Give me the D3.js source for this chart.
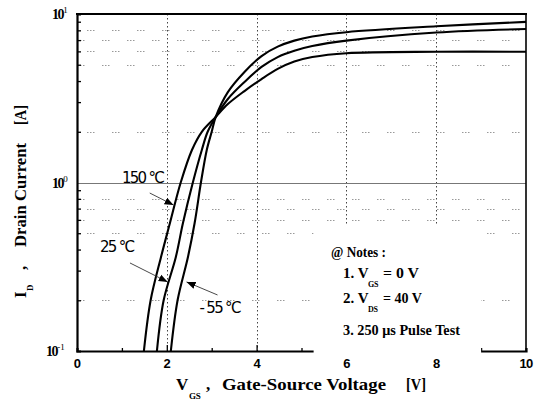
<!DOCTYPE html>
<html>
<head>
<meta charset="utf-8">
<script src="https://cdn.jsdelivr.net/npm/d3@7"></script>
<style>
  body { margin: 0; background: #fff; }
  svg { display: block; }
  text { white-space: pre; }
</style>
</head>
<body>
<svg id="chart" width="538" height="403"></svg>
<script>
// === DATA ===
const vgs150 = [1.49, 1.64, 1.87, 2.07, 2.31, 2.56, 2.78, 3.09, 3.36, 3.73, 4.11, 4.47, 4.84, 5.24, 6, 8, 10];
const id150  = [0.1, 0.2, 0.36, 0.575, 1.0, 1.56, 2.0, 2.45, 2.92, 3.49, 4.11, 4.72, 5.22, 5.55, 5.85, 5.97, 5.97];

const vgs25 = [1.78, 1.93, 2.2, 2.36, 2.58, 2.78, 2.91, 3.09, 3.36, 3.73, 4.11, 4.47, 4.84, 5.24, 6, 8, 10];
const id25  = [0.1, 0.2, 0.36, 0.575, 1.0, 1.56, 2.0, 2.45, 3.13, 3.95, 4.85, 5.55, 6.05, 6.45, 6.95, 7.76, 8.14];

const vgsM55 = [2.09, 2.24, 2.47, 2.62, 2.76, 2.89, 3.0, 3.09, 3.36, 3.73, 4.11, 4.47, 4.84, 5.24, 6, 8, 10];
const idM55  = [0.1, 0.2, 0.36, 0.575, 1.0, 1.56, 2.0, 2.45, 3.44, 4.53, 5.63, 6.4, 6.95, 7.35, 7.8, 8.45, 8.98];

const xMinorTicks = [1, 3, 5, 7, 9];
const xMajorTicks = [2, 4, 6, 8];
const xTickLabels = [0, 2, 4, 6, 8, 10];
const yMinorTicks = [0.2, 0.3, 0.4, 0.5, 0.6, 0.7, 0.8, 0.9, 2, 3, 4, 5, 6, 7, 8, 9];
const yGridRows = [0.2, 0.5, 0.6, 0.7, 0.8, 2, 5, 6, 7, 8];
const yDecades = [{ v: 10, exp: "1" }, { v: 1, exp: "0" }, { v: 0.1, exp: "-1" }];

// annotations: label position + arrow (from -> to), in data units
const tempLabels = [
  { text: "150 °C", v: 1.0, i: 1.0, from: [1.62, 0.866], to: [2.15, 0.735] },
  { text: "25 °C", v: 0.51, i: 0.387, from: [1.18, 0.333], to: [2.02, 0.257] },
  { text: "- 55 °C", v: 2.73, i: 0.168, from: [3.13, 0.215], to: [2.44, 0.257] }
];

const width = 538, height = 403;
const plotL = 77, plotR = 526, plotT = 14, plotB = 351;

const svg = d3.select("#chart");
svg.append("rect").attr("width", width).attr("height", height).attr("fill", "#fff");

const x = d3.scaleLinear().domain([0, 10]).range([plotL, plotR]);
const y = d3.scaleLog().domain([0.1, 10]).range([plotB, plotT]);

// === GRID ===
const grid = svg.append("g");
grid.selectAll("line.row")
  .data(yGridRows)
  .join("line")
  .attr("class", "row")
  .attr("x1", plotL).attr("x2", plotR)
  .attr("y1", d => Math.round(y(d)) + 0.5).attr("y2", d => Math.round(y(d)) + 0.5)
  .attr("stroke", "#999")
  .attr("stroke-width", 1)
  .attr("stroke-dasharray", "1.5,1.5,1.5,1.5,1.5,17.5")
  .attr("stroke-dashoffset", (d, i) => (i % 2 ? -10 : 0));

grid.selectAll("line.col")
  .data(xMajorTicks)
  .join("line")
  .attr("class", "col")
  .attr("x1", d => Math.round(x(d)) + 0.5).attr("x2", d => Math.round(x(d)) + 0.5)
  .attr("y1", plotT).attr("y2", plotB)
  .attr("stroke", "#444")
  .attr("stroke-width", 1)
  .attr("stroke-dasharray", "1.5,2.5");

// 10^0 solid line
grid.append("line")
  .attr("x1", plotL).attr("x2", plotR)
  .attr("y1", Math.round(y(1)) + 0.5).attr("y2", Math.round(y(1)) + 0.5)
  .attr("stroke", "#777")
  .attr("stroke-width", 1);

// === AXES ===
const yAxis = svg.append("g")
  .attr("transform", `translate(${plotL},0)`)
  .call(d3.axisLeft(y).tickValues(yMinorTicks).tickSize(-4).tickFormat(""));
yAxis.select(".domain").attr("stroke-width", 2.2);

const xAxisMinor = svg.append("g")
  .attr("transform", `translate(0,${plotB})`)
  .call(d3.axisBottom(x).tickValues(xMinorTicks).tickSize(-3).tickFormat(""));
xAxisMinor.select(".domain").attr("stroke-width", 2.2);
svg.append("g")
  .attr("transform", `translate(0,${plotB})`)
  .call(d3.axisBottom(x).tickValues(xMajorTicks).tickSize(-6).tickFormat(""))
  .select(".domain").remove();

svg.selectAll(".tick line").attr("stroke-width", 1.3);

// top + right frame
svg.append("line").attr("x1", plotL - 1).attr("x2", plotR + 1).attr("y1", plotT).attr("y2", plotT)
  .attr("stroke", "#000").attr("stroke-width", 2.2);
svg.append("line").attr("x1", plotR).attr("x2", plotR).attr("y1", plotT).attr("y2", plotB)
  .attr("stroke", "#000").attr("stroke-width", 1.6);

// === CURVES ===
const line = d3.line()
  .x(d => x(d[0]))
  .y(d => y(d[1]))
  .curve(d3.curveCatmullRom.alpha(0.5));

const series = [
  d3.zip(vgs150, id150),
  d3.zip(vgs25, id25),
  d3.zip(vgsM55, idM55)
];
svg.append("g").selectAll("path")
  .data(series)
  .join("path")
  .attr("d", line)
  .attr("fill", "none")
  .attr("stroke", "#000")
  .attr("stroke-width", 2.1)
  .attr("stroke-linejoin", "round");

// === TEMPERATURE LABELS & ARROWS ===
svg.append("defs").append("marker")
  .attr("id", "arrow")
  .attr("viewBox", "0 0 10 10")
  .attr("refX", 10).attr("refY", 5)
  .attr("markerWidth", 9).attr("markerHeight", 9)
  .attr("markerUnits", "userSpaceOnUse")
  .attr("orient", "auto")
  .append("path")
  .attr("d", "M0,1 L10,5 L0,9 Z")
  .attr("fill", "#000");

const ann = svg.append("g");
ann.selectAll("line")
  .data(tempLabels)
  .join("line")
  .attr("x1", d => x(d.from[0])).attr("y1", d => y(d.from[1]))
  .attr("x2", d => x(d.to[0])).attr("y2", d => y(d.to[1]))
  .attr("stroke", "#333")
  .attr("stroke-width", 0.9)
  .attr("marker-end", "url(#arrow)");
ann.selectAll("text")
  .data(tempLabels)
  .join("text")
  .attr("x", d => x(d.v)).attr("y", d => y(d.i))
  .attr("font-family", "DejaVu Sans")
  .attr("font-size", 15)
  .attr("letter-spacing", -1.7)
  .text(d => d.text);

// === NOTES BOX ===
svg.append("rect")
  .attr("x", x(5.27)).attr("y", y(0.567))
  .attr("width", x(9.0) - x(5.27))
  .attr("height", plotB + 4 - y(0.567))
  .attr("fill", "#fff");

const notes = svg.append("g")
  .attr("font-family", "Liberation Serif")
  .attr("font-weight", "bold")
  .attr("font-size", 15);
notes.append("text").attr("x", 331).attr("y", 257)
  .attr("textLength", 55).attr("lengthAdjust", "spacingAndGlyphs").text("@ Notes :");
const noteLines = [
  { n: "1. ", sub: "GS", rest: "= 0 V", w: 36, y: 278 },
  { n: "2. ", sub: "DS", rest: "= 40 V", w: 39, y: 303 }
];
noteLines.forEach(d => {
  notes.append("text").attr("x", 343).attr("y", d.y).text(d.n + "V");
  notes.append("text").attr("x", 368).attr("y", d.y + 9)
    .attr("font-size", 8).attr("letter-spacing", -0.3).text(d.sub);
  notes.append("text").attr("x", 383).attr("y", d.y)
    .attr("textLength", d.w).attr("lengthAdjust", "spacingAndGlyphs").text(d.rest);
});
notes.append("text").attr("x", 343).attr("y", 335)
  .attr("textLength", 117).attr("lengthAdjust", "spacingAndGlyphs").text("3. 250 μs Pulse Test");

// === TICK LABELS ===
svg.append("g").selectAll("text")
  .data(xTickLabels)
  .join("text")
  .attr("x", d => x(d)).attr("y", 368)
  .attr("text-anchor", "middle")
  .attr("font-family", "Liberation Sans")
  .attr("font-weight", "bold")
  .attr("font-size", 13)
  .attr("letter-spacing", -0.8)
  .text(d => d);

const yl = svg.append("g")
  .attr("font-family", "Liberation Serif")
  .attr("font-weight", "bold")
  .attr("font-size", 14)
  .attr("letter-spacing", -1.4);
yDecades.forEach(d => {
  const t = yl.append("text")
    .attr("x", d.exp === "-1" ? 46 : 52)
    .attr("y", y(d.v) + 5);
  t.append("tspan").text("10");
  t.append("tspan").attr("dy", -6).attr("font-size", 9).attr("font-weight", "normal")
    .attr("letter-spacing", 0).text(d.exp);
});

// === AXIS TITLES ===
const xt = svg.append("g")
  .attr("font-family", "Liberation Serif")
  .attr("font-weight", "bold")
  .attr("font-size", 17);
xt.append("text").attr("x", 176).attr("y", 390).text("V");
xt.append("text").attr("x", 189).attr("y", 399).attr("font-size", 9).attr("letter-spacing", -0.3).text("GS");
xt.append("text").attr("x", 206).attr("y", 390).text(",");
xt.append("text").attr("x", 222).attr("y", 390)
  .attr("textLength", 164).attr("lengthAdjust", "spacingAndGlyphs").text("Gate-Source Voltage");
xt.append("text").attr("x", 406).attr("y", 390)
  .attr("textLength", 20).attr("lengthAdjust", "spacingAndGlyphs").text("[V]");

const yt = svg.append("g")
  .attr("transform", "translate(26,0) rotate(-90)")
  .attr("font-family", "Liberation Serif")
  .attr("font-weight", "bold")
  .attr("font-size", 17);
yt.append("text").attr("x", -298).attr("y", 0).text("I");
yt.append("text").attr("x", -291).attr("y", 7).attr("font-size", 9).text("D");
yt.append("text").attr("x", -270).attr("y", 0).text(",");
yt.append("text").attr("x", -247).attr("y", 0)
  .attr("textLength", 104).attr("lengthAdjust", "spacingAndGlyphs").text("Drain Current");
yt.append("text").attr("x", -125).attr("y", 0)
  .attr("textLength", 20).attr("lengthAdjust", "spacingAndGlyphs").text("[A]");
</script>
</body>
</html>
